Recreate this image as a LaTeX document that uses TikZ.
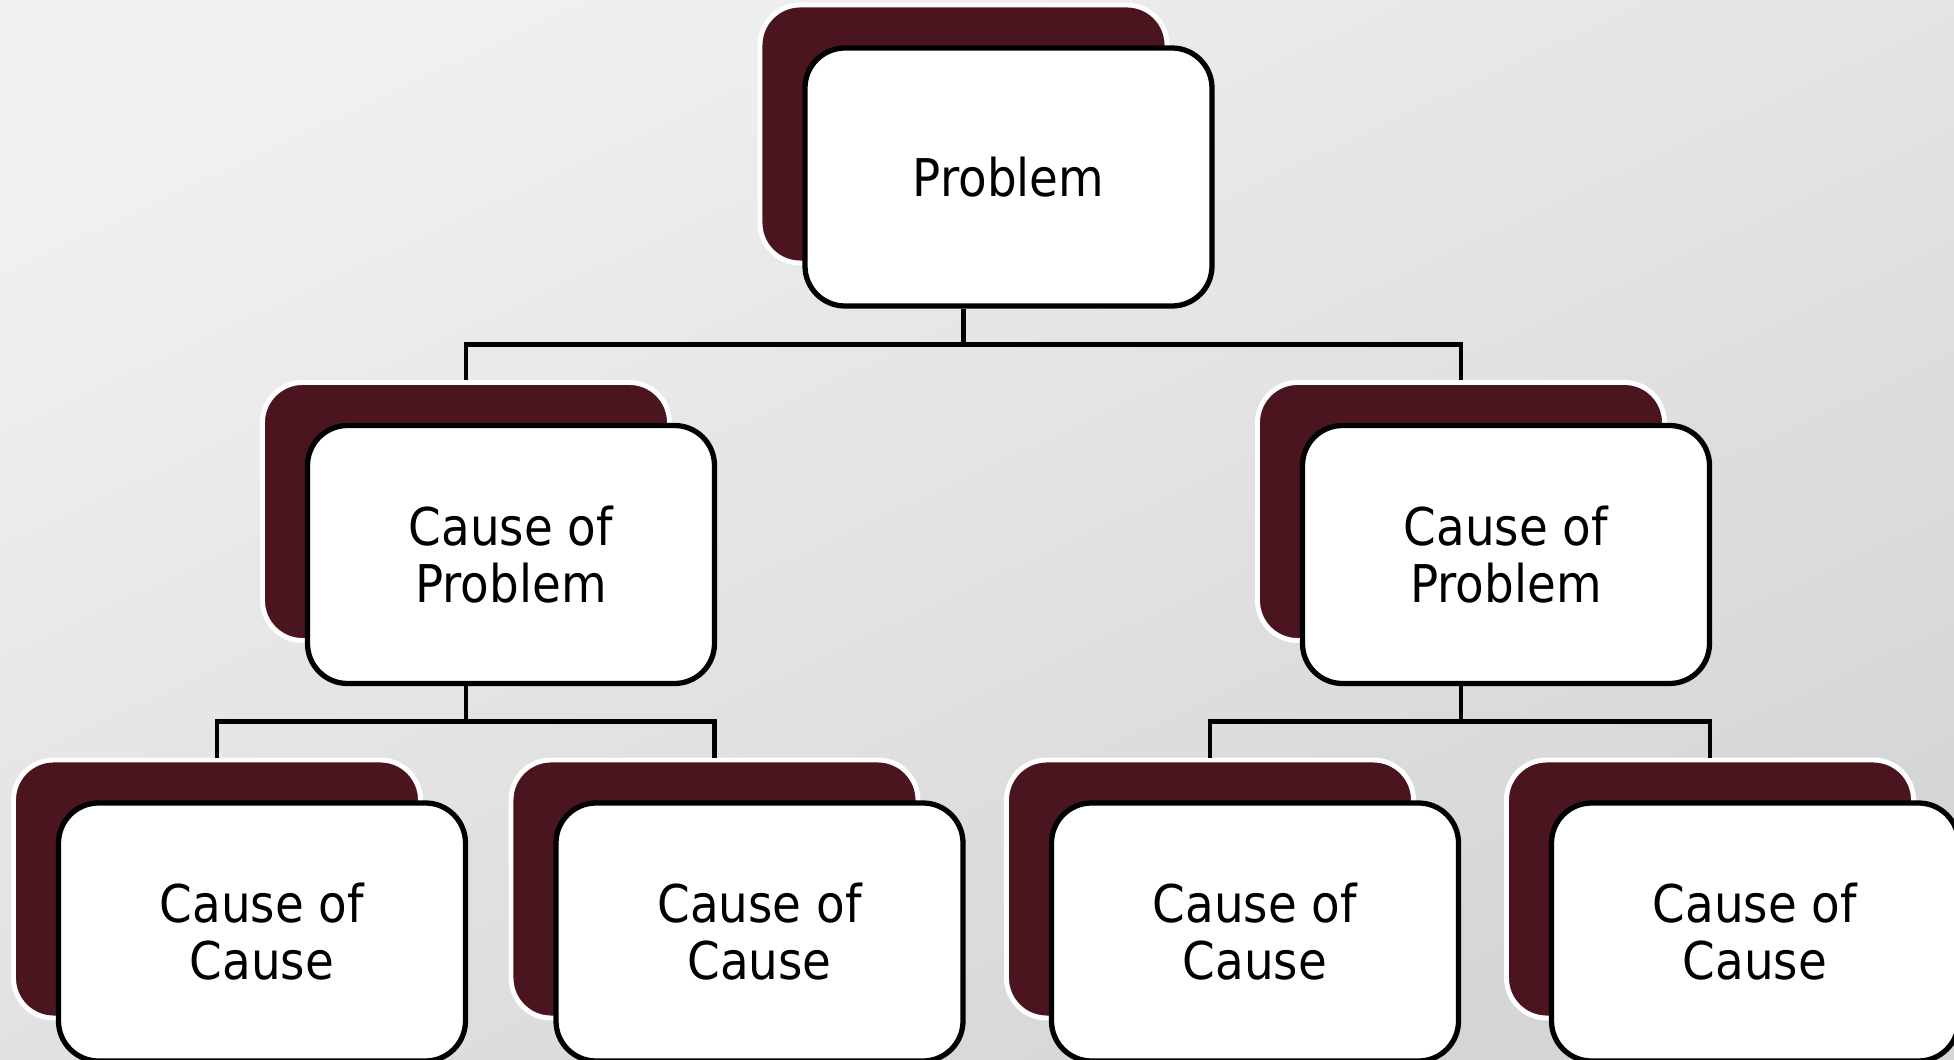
\documentclass[tikz,border=0pt]{standalone}
\usepackage{fontspec}
\setmainfont{DejaVu Sans}[FakeStretch=0.9]
\usepackage{tikz}
\usetikzlibrary{calc}
\definecolor{causered}{RGB}{74,21,31}
\definecolor{bglight}{HTML}{F0F0F0}
\definecolor{bgdark}{HTML}{D5D5D5}

\begin{document}
\begin{tikzpicture}
  \tikzstyle{back}=[rectangle,rounded corners=0.4cm,fill=causered,draw=white,line width=1.4pt,minimum width=4.07cm,minimum height=2.58cm,inner sep=0pt]
  \tikzstyle{front}=[rectangle,rounded corners=0.4cm,fill=white,draw=black,line width=1.5pt,minimum width=4.07cm,minimum height=2.58cm,inner sep=0pt,align=center,xshift=0.45cm,yshift=-0.43cm,font=\fontsize{14.8}{16.2}\selectfont]
  \tikzstyle{link}=[draw,line width=1.4pt]
  % background
  \shade[top color=bglight,bottom color=bgdark,shading angle=25] (0,0) rectangle (19.54,-10.60);
  \useasboundingbox (0,0) rectangle (19.54,-10.60);
  % shadows
  \node[back] (pb) at (9.635,-1.34) {};
  \node[back] (c1b) at (4.66,-5.115) {};
  \node[back] (c2b) at (14.61,-5.115) {};
  \node[back] (c11b) at (2.17,-8.89) {};
  \node[back] (c12b) at (7.145,-8.89) {};
  \node[back] (c21b) at (12.10,-8.89) {};
  \node[back] (c22b) at (17.10,-8.89) {};
  % boxes
  \node[front] (p) at (pb) {Problem};
  \node[front] (c1) at (c1b) {Cause of\\Problem};
  \node[front] (c2) at (c2b) {Cause of\\Problem};
  \node[front] (c11) at (c11b) {Cause of\\Cause};
  \node[front] (c12) at (c12b) {Cause of\\Cause};
  \node[front] (c21) at (c21b) {Cause of\\Cause};
  \node[front] (c22) at (c22b) {Cause of\\Cause};
  % links
  \coordinate (pbar) at ($(p.south)!0.5!(c1b.north)$);
  \coordinate (c1bar) at ($(c1.south)!0.5!(c11b.north)$);
  \coordinate (c2bar) at ($(c2.south)!0.5!(c21b.north)$);
  \draw[link] (p.south -| pb) |- (pbar -| c1b) -- (c1b.north);
  \draw[link] (p.south -| pb) |- (pbar -| c2b) -- (c2b.north);
  \draw[link] (c1.south -| c1b) |- (c1bar -| c11b) -- (c11b.north);
  \draw[link] (c1.south -| c1b) |- (c1bar -| c12b) -- (c12b.north);
  \draw[link] (c2.south -| c2b) |- (c2bar -| c21b) -- (c21b.north);
  \draw[link] (c2.south -| c2b) |- (c2bar -| c22b) -- (c22b.north);
\end{tikzpicture}
\end{document}
